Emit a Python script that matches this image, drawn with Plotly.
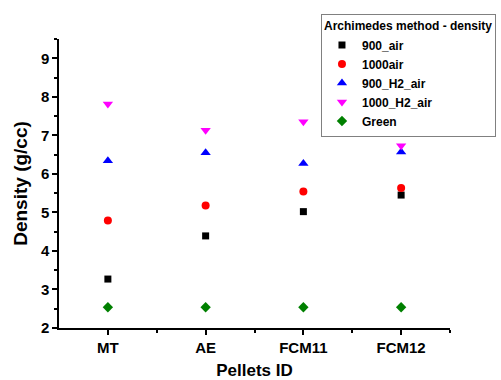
import plotly.graph_objects as go

categories = ["MT", "AE", "FCM11", "FCM12"]
series_names = ["900_air", "1000air", "900_H2_air", "1000_H2_air", "Green"]
air_900 = [3.27, 4.39, 5.02, 5.45]
air_1000 = [4.79, 5.18, 5.54, 5.63]
h2_air_900 = [6.34, 6.55, 6.27, 6.57]
h2_air_1000 = [7.81, 7.13, 7.35, 6.73]
green = [2.54, 2.54, 2.54, 2.54]
y_ticks = [2, 3, 4, 5, 6, 7, 8, 9]

values = [air_900, air_1000, h2_air_900, h2_air_1000, green]
symbols = ["square", "circle", "triangle-up", "triangle-down", "diamond"]
colors = ["#000000", "#ff0000", "#0000ff", "#ff00ff", "#008000"]
sizes = [7, 8, 9, 9, 8]

xpos = list(range(len(categories)))
fig = go.Figure()
for name, vals, sym, col, sz in zip(series_names, values, symbols, colors, sizes):
    fig.add_trace(go.Scatter(
        x=xpos, y=vals, mode="markers", name=name,
        marker=dict(symbol=sym, color=col, size=sz, line=dict(width=0)),
    ))

font_family = "Liberation Sans, Arial, sans-serif"
fig.update_layout(
    width=501, height=380,
    margin=dict(l=59, r=51, t=39, b=52, autoexpand=False),
    paper_bgcolor="white", plot_bgcolor="white",
    font=dict(family=font_family, color="black"),
    showlegend=True,
    legend=dict(
        x=0.67, y=1.087, xanchor="left", yanchor="top",
        bordercolor="#808080", borderwidth=1, bgcolor="white",
        title=dict(text="Archimedes method - density", font=dict(size=12, weight="bold")),
        font=dict(size=12, weight="bold"),
        tracegroupgap=0,
    ),
    xaxis=dict(
        range=[-0.5, 3.5], tickmode="array", tickvals=xpos, ticktext=categories,
        showline=True, linecolor="black", linewidth=1.5, mirror=False,
        ticks="outside", ticklen=5, tickwidth=1.5, tickcolor="black",
        showgrid=False, zeroline=False, automargin=True,
        tickfont=dict(size=15, weight="bold"),
        minor=dict(tickvals=[0.5, 1.5, 2.5, 3.5], ticks="outside", ticklen=3, tickwidth=1.5, tickcolor="black", showgrid=False),
        title=dict(text="Pellets ID", font=dict(size=17, weight="bold"), standoff=17),
    ),
    yaxis=dict(
        range=[2, 9.5], tickmode="array", tickvals=y_ticks,
        showline=True, linecolor="black", linewidth=1.5, mirror=False,
        ticks="outside", ticklen=5, tickwidth=1.5, tickcolor="black",
        showgrid=False, zeroline=False, automargin=True,
        tickfont=dict(size=15, weight="bold"),
        minor=dict(dtick=0.5, tick0=2, ticks="outside", ticklen=3, tickwidth=1.5, tickcolor="black", showgrid=False),
        title=dict(text="Density (g/cc)", font=dict(size=19, weight="bold"), standoff=8),
    ),
)
fig.write_html("out.html")
